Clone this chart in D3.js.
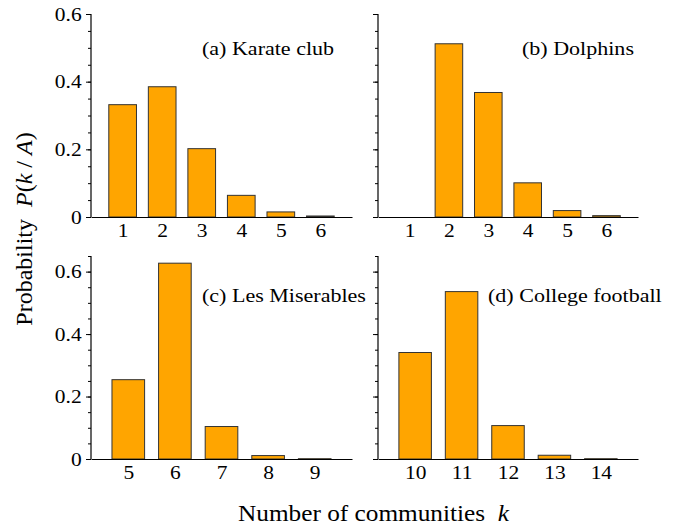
<!DOCTYPE html>
<html>
<head>
<meta charset="utf-8">
<script src="https://cdn.jsdelivr.net/npm/d3@7"></script>
<style>
  body { margin: 0; background: #fff; }
  text { font-family: "Liberation Serif", "Times New Roman", serif; fill: #000; }
</style>
</head>
<body>
<div id="chart"></div>
<script>
// community count distributions
const kKarate = [1, 2, 3, 4, 5, 6];
const pKarate = [0.332, 0.385, 0.202, 0.064, 0.015, 0.003];

const kDolphins = [1, 2, 3, 4, 5, 6];
const pDolphins = [0, 0.512, 0.368, 0.101, 0.019, 0.004];

const kLesMis = [5, 6, 7, 8, 9];
const pLesMis = [0.254, 0.627, 0.104, 0.011, 0.001];

const kFootball = [10, 11, 12, 13, 14];
const pFootball = [0.341, 0.536, 0.107, 0.012, 0.001];

const yTicksTop = [0, 0.2, 0.4, 0.6];
const yTicksBottom = [0, 0.2, 0.4, 0.6];

const W = 678, H = 525;
const stretch = 1.13; // the original figure is a bit wider than tall

const svg = d3.select("#chart")
    .append("svg")
    .attr("width", W)
    .attr("height", H);

function drawPanel(opts) {
    const x = d3.scaleLinear()
        .domain(opts.xDomain)
        .range([opts.left, opts.right]);
    const y = d3.scaleLinear()
        .domain([0, opts.yMax])
        .range([opts.bottom, opts.top]);

    const g = svg.append("g");

    // bars
    g.selectAll(".bar")
        .data(opts.k.map((k, i) => ({k: k, p: opts.p[i]})).filter(d => d.p > 0))
        .enter().append("rect")
        .attr("class", "bar")
        .attr("x", d => x(d.k - 0.35))
        .attr("width", d => x(d.k + 0.35) - x(d.k - 0.35))
        .attr("y", d => y(d.p))
        .attr("height", d => Math.max(0.5, opts.bottom - y(d.p)))
        .style("fill", "#ffa500")
        .style("stroke", "#333")
        .style("stroke-width", 1);

    // minor ticks every 0.05
    const minor = d3.range(0, opts.yMax + 1e-9, 0.05);
    g.append("g")
        .attr("transform", `translate(${opts.left},0)`)
        .call(d3.axisLeft(y).tickValues(minor).tickSize(3).tickFormat(""))
        .call(a => a.select(".domain").remove());

    // major ticks + labels
    const yAxis = g.append("g")
        .attr("transform", `translate(${opts.left},0)`)
        .call(d3.axisLeft(y)
            .tickValues(opts.yTicks)
            .tickSize(5)
            .tickSizeOuter(0)
            .tickFormat(opts.showY ? (d => d === 0 ? "0" : d3.format(".1f")(d)) : ""));
    yAxis.selectAll("text")
        .attr("x", -8.3)
        .attr("transform", `scale(${stretch},1)`)
        .style("font-size", "19px")
        .style("font-family", "Liberation Serif");
    yAxis.select(".domain").attr("d", `M0,${opts.bottom}V${opts.top}`);

    // x axis: line with labels, no tick marks
    const xAxis = g.append("g")
        .attr("transform", `translate(0,${opts.bottom})`)
        .call(d3.axisBottom(x).tickValues(opts.k).tickSize(0).tickSizeOuter(0).tickPadding(7)
            .tickFormat(d3.format("d")));
    xAxis.selectAll("text")
        .attr("transform", `scale(${stretch},1)`)
        .style("font-size", "19px")
        .style("font-family", "Liberation Serif");

    g.selectAll(".domain").style("stroke", "#000").style("stroke-width", 1.2);
    g.selectAll(".tick line").style("stroke", "#000");

    g.append("text")
        .attr("transform", `translate(${opts.labelX},${opts.labelY}) scale(${stretch},1)`)
        .style("font-size", "19.5px")
        .text(opts.label);
}

drawPanel({k: kKarate, p: pKarate, xDomain: [0.2, 6.8], yMax: 0.6, yTicks: yTicksTop,
    left: 91, right: 352, top: 14, bottom: 217, showY: true,
    label: "(a) Karate club", labelX: 202, labelY: 55});
drawPanel({k: kDolphins, p: pDolphins, xDomain: [0.2, 6.8], yMax: 0.6, yTicks: yTicksTop,
    left: 378, right: 638, top: 14, bottom: 217, showY: false,
    label: "(b) Dolphins", labelX: 522, labelY: 55});
drawPanel({k: kLesMis, p: pLesMis, xDomain: [4.2, 9.8], yMax: 0.65, yTicks: yTicksBottom,
    left: 91, right: 352, top: 256, bottom: 459, showY: true,
    label: "(c) Les Miserables", labelX: 202, labelY: 302});
drawPanel({k: kFootball, p: pFootball, xDomain: [9.2, 14.8], yMax: 0.65, yTicks: yTicksBottom,
    left: 378, right: 638, top: 256, bottom: 459, showY: false,
    label: "(d) College football", labelX: 488, labelY: 302});

// axis titles
const yt = svg.append("text")
    .attr("transform", "translate(32,229) rotate(-90)")
    .attr("text-anchor", "middle")
    .style("font-size", "24px");
yt.append("tspan").text("Probability\u00a0\u00a0");
yt.append("tspan").style("font-style", "italic").text("P");
yt.append("tspan").text("(");
yt.append("tspan").style("font-style", "italic").text("k");
yt.append("tspan").text(" / ");
yt.append("tspan").style("font-style", "italic").text("A");
yt.append("tspan").text(")");

const xt = svg.append("text")
    .attr("transform", "translate(238,521) scale(1.1,1)")
    .style("font-size", "23px");
xt.append("tspan").text("Number of communities\u00a0\u00a0");
xt.append("tspan").style("font-style", "italic").text("k");
</script>
</body>
</html>
